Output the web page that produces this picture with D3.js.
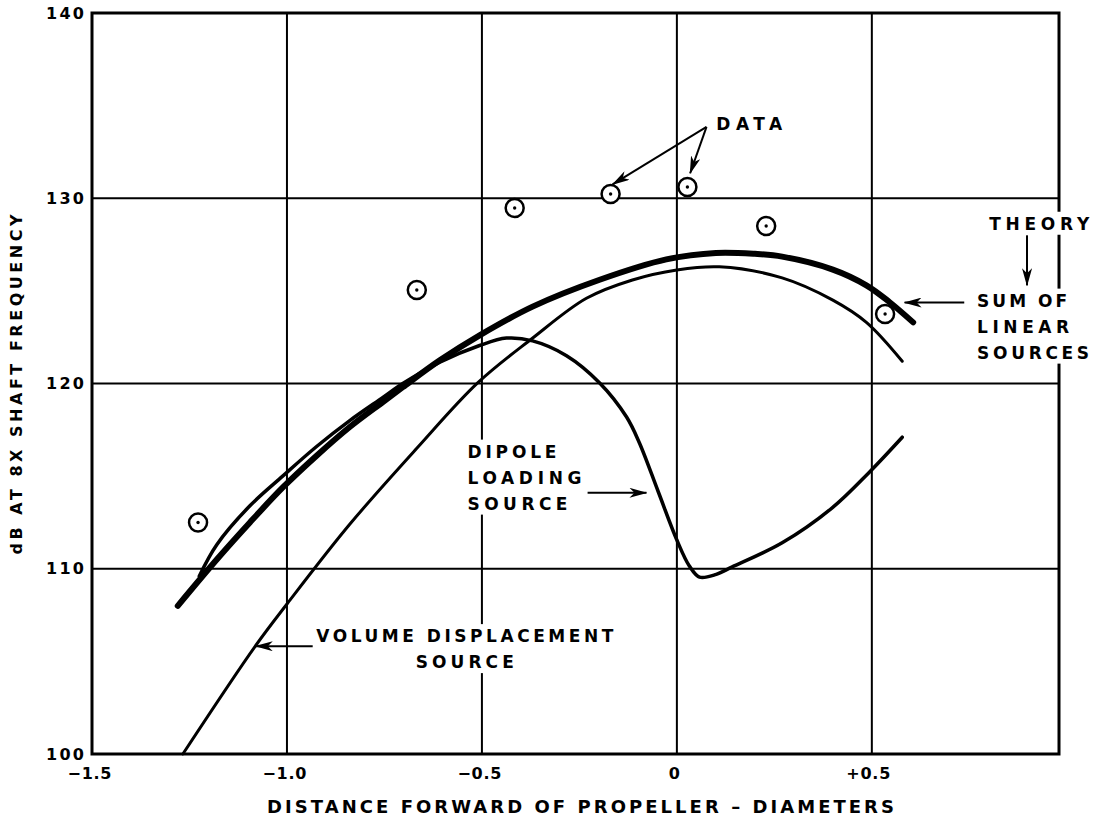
<!DOCTYPE html>
<html>
<head>
<meta charset="utf-8">
<script src="https://cdn.jsdelivr.net/npm/d3@7"></script>
<style>
  body { margin: 0; background: #fff; }
  text { font-family: "DejaVu Sans", sans-serif; font-weight: bold; fill: #000; }
</style>
</head>
<body>
<div class="canvas"></div>
<script>
// values (x = diameters, y = dB)
const xTicks = [-1.5, -1.0, -0.5, 0, 0.5];
const xTickLabels = ['\u22121.5', '\u22121.0', '\u22120.5', '0', '+0.5'];
const yTicks = [100, 110, 120, 130, 140];

const dataX = [-1.228, -0.667, -0.416, -0.170, 0.027, 0.229, 0.534];
const dataY = [112.5, 125.05, 129.47, 130.23, 130.61, 128.5, 123.75];

// theory: sum of linear sources (heavy line)
const sumSources = [
  [-1.28, 108.0], [-1.18, 110.5], [-1.095, 112.5], [-1.01, 114.4], [-0.924, 116.1],
  [-0.839, 117.65], [-0.754, 119.0], [-0.703, 119.8], [-0.608, 121.25], [-0.506, 122.6],
  [-0.37, 124.15], [-0.198, 125.6], [-0.027, 126.7], [0.10, 127.05], [0.20, 127.0],
  [0.27, 126.85], [0.40, 126.15], [0.486, 125.3], [0.545, 124.4], [0.606, 123.3]
];

// volume displacement source
const volumeSource = [
  [-1.267, 100.0], [-1.082, 105.8], [-0.998, 108.15], [-0.839, 112.4], [-0.667, 116.5],
  [-0.511, 120.03], [-0.373, 122.4], [-0.232, 124.6], [-0.114, 125.59], [0.0, 126.13],
  [0.109, 126.3], [0.27, 125.7], [0.40, 124.5], [0.486, 123.3], [0.578, 121.2]
];

// dipole loading source
const dipoleSource = [
  [-1.225, 109.6], [-1.18, 111.3], [-1.095, 113.4], [-1.011, 115.0], [-0.924, 116.6],
  [-0.839, 118.0], [-0.754, 119.25], [-0.703, 120.0], [-0.608, 121.15], [-0.506, 122.05],
  [-0.437, 122.45], [-0.37, 122.3], [-0.283, 121.5], [-0.198, 120.03], [-0.129, 118.19],
  [-0.096, 116.79], [-0.048, 114.17], [0.0, 111.55], [0.032, 110.15], [0.058, 109.55],
  [0.101, 109.7], [0.142, 110.1], [0.27, 111.4], [0.399, 113.3], [0.493, 115.2], [0.578, 117.1]
];

const dimension = { width: 1094, height: 820 };
const plot = { left: 92, right: 1059, top: 13, bottom: 754 };

const svg = d3.select('.canvas')
    .append('svg')
    .attr('width', dimension.width)
    .attr('height', dimension.height);

svg.append('rect')
    .attr('width', dimension.width)
    .attr('height', dimension.height)
    .attr('fill', '#fff');

const x = d3.scaleLinear().domain([-1.5, 0.98]).range([plot.left, plot.right]);
const y = d3.scaleLinear().domain([100, 140]).range([plot.bottom, plot.top]);

// arrowhead
svg.append('defs').append('marker')
    .attr('id', 'arrow')
    .attr('markerUnits', 'userSpaceOnUse')
    .attr('viewBox', '0 0 18 10')
    .attr('refX', 17).attr('refY', 5)
    .attr('markerWidth', 18).attr('markerHeight', 10)
    .attr('orient', 'auto')
  .append('path')
    .attr('d', 'M0,0 L18,5 L0,10 L5,5 z')
    .attr('fill', '#000');

// grid
const grid = svg.append('g');
grid.selectAll('line.vx')
    .data(xTicks.slice(1))
    .enter().append('line')
    .attr('x1', d => x(d)).attr('x2', d => x(d))
    .attr('y1', plot.top).attr('y2', plot.bottom)
    .attr('stroke', '#000').attr('stroke-width', 2);
grid.selectAll('line.hy')
    .data(yTicks.slice(1, -1))
    .enter().append('line')
    .attr('x1', plot.left).attr('x2', plot.right)
    .attr('y1', d => y(d)).attr('y2', d => y(d))
    .attr('stroke', '#000').attr('stroke-width', 2);

svg.append('rect')
    .attr('x', plot.left).attr('y', plot.top)
    .attr('width', plot.right - plot.left)
    .attr('height', plot.bottom - plot.top)
    .attr('fill', 'none')
    .attr('stroke', '#000')
    .attr('stroke-width', 3);

// axes (labels only)
const xAxis = d3.axisBottom(x)
    .tickValues(xTicks)
    .tickFormat((d, i) => xTickLabels[i])
    .tickSize(0)
    .tickPadding(14);
const xg = svg.append('g')
    .attr('transform', `translate(0, ${plot.bottom})`)
    .call(xAxis);
xg.select('.domain').remove();
xg.selectAll('text')
    .attr('font-size', 16)
    .attr('font-family', '"DejaVu Sans", sans-serif')
    .attr('font-weight', 'bold')
    .attr('dx', (d, i) => i === 4 ? -4 : -3)
    .attr('textLength', (d, i) => i === 3 ? null : 44)
    .attr('lengthAdjust', 'spacing');

const yAxis = d3.axisLeft(y)
    .tickValues(yTicks)
    .tickSize(0)
    .tickPadding(8);
const yg = svg.append('g')
    .attr('transform', `translate(${plot.left}, 0)`)
    .call(yAxis);
yg.select('.domain').remove();
yg.selectAll('text')
    .attr('font-size', 16)
    .attr('font-family', '"DejaVu Sans", sans-serif')
    .attr('font-weight', 'bold')
    .attr('textLength', 38)
    .attr('lengthAdjust', 'spacing');

svg.append('text')
    .attr('x', (plot.left + plot.right) / 2 + 5)
    .attr('y', 813)
    .attr('text-anchor', 'middle')
    .attr('font-size', 18)
    .attr('textLength', 627)
    .attr('lengthAdjust', 'spacing')
    .text('DISTANCE FORWARD OF PROPELLER \u2013 DIAMETERS');

svg.append('text')
    .attr('transform', `translate(22, ${(plot.top + plot.bottom) / 2 + 1}) rotate(-90)`)
    .attr('text-anchor', 'middle')
    .attr('font-size', 16)
    .attr('textLength', 340)
    .attr('lengthAdjust', 'spacing')
    .text('dB AT 8X SHAFT FREQUENCY');

// curves
const line = d3.line()
    .x(d => x(d[0]))
    .y(d => y(d[1]))
    .curve(d3.curveCatmullRom.alpha(0.5));

const curves = svg.append('g').attr('fill', 'none').attr('stroke', '#000')
    .attr('stroke-linecap', 'round').attr('stroke-linejoin', 'round');
curves.append('path').attr('d', line(volumeSource)).attr('stroke-width', 3);
curves.append('path').attr('d', line(dipoleSource)).attr('stroke-width', 3.5);
curves.append('path').attr('d', line(sumSources)).attr('stroke-width', 6);

// data points
const pts = svg.append('g').selectAll('g')
    .data(dataX.map((d, i) => [d, dataY[i]]))
    .enter().append('g')
    .attr('transform', d => `translate(${x(d[0])}, ${y(d[1])})`);
pts.append('circle').attr('r', 9).attr('fill', '#fff').attr('stroke', '#000').attr('stroke-width', 2.5);
pts.append('circle').attr('r', 1.7).attr('fill', '#000');

// annotations (positions in data units)
const labels = [
  { x: 0.101, y: 133.7, lines: ['DATA'], len: [66] },
  { x: 0.801, y: 128.3, lines: ['THEORY'], len: [100], mask: true },
  { x: 0.770, y: 124.15, lines: ['SUM OF', 'LINEAR', 'SOURCES'], len: [90, 92, 112], mask: true },
  { x: -0.537, y: 116.0, lines: ['DIPOLE', 'LOADING', 'SOURCE'], len: [89, 114, 100], mask: true },
  { x: -0.544, y: 106.04, lines: ['VOLUME DISPLACEMENT', 'SOURCE'], len: [297, 98], mask: true, center: true }
];
const arrows = [
  [[0.076, 133.85], [-0.165, 130.75]],
  [[0.076, 133.85], [0.034, 131.35]],
  [[0.898, 128.0], [0.898, 125.3]],
  [[0.737, 124.37], [0.584, 124.37]],
  [[-0.229, 114.1], [-0.078, 114.1]],
  [[-0.934, 105.82], [-1.08, 105.82]]
];

const step = 26;
labels.forEach(l => {
  const g = svg.append('g');
  const x0 = x(l.x), y0 = y(l.y);
  if (l.mask) {
    const w = d3.max(l.len);
    g.append('rect')
        .attr('x', l.center ? x0 - w / 2 - 5 : x0 - 6)
        .attr('y', y0 - 18)
        .attr('width', w + 12)
        .attr('height', step * (l.lines.length - 1) + 23)
        .attr('fill', '#fff');
  }
  l.lines.forEach((t, i) => {
    g.append('text')
        .attr('x', x0)
        .attr('y', y0 + i * step)
        .attr('text-anchor', l.center ? 'middle' : 'start')
        .attr('font-size', 17)
        .attr('textLength', l.len[i])
        .attr('lengthAdjust', 'spacing')
        .text(t);
  });
});

svg.append('g').selectAll('line')
    .data(arrows)
    .enter().append('line')
    .attr('x1', d => x(d[0][0])).attr('y1', d => y(d[0][1]))
    .attr('x2', d => x(d[1][0])).attr('y2', d => y(d[1][1]))
    .attr('stroke', '#000')
    .attr('stroke-width', 2)
    .attr('marker-end', 'url(#arrow)');
</script>
</body>
</html>
